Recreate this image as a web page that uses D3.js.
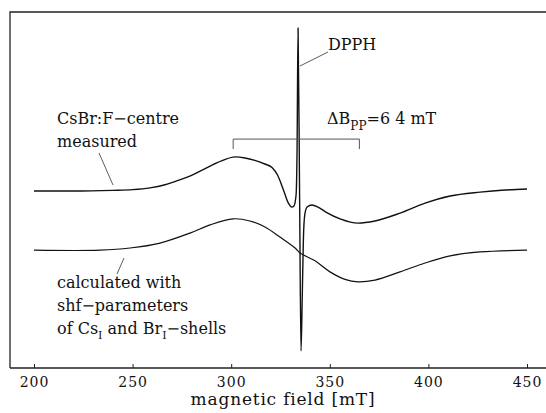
<!DOCTYPE html>
<html>
<head>
<meta charset="utf-8">
<script src="https://cdn.jsdelivr.net/npm/d3@7"></script>
<style>
body { margin:0; background:#fff; }
text { font-family: "DejaVu Serif", "Liberation Serif", serif; fill:#111; }
</style>
</head>
<body>
<div id="chart"></div>
<script>

// magnetic field (mT) and signal (arb. units)
var measuredField = [200, 220, 240, 250, 258.8, 266, 272, 279, 285, 291, 296, 302, 307, 312, 317, 320.7, 323.5, 326.5, 329, 330.8, 331.8, 332.9, 333.4, 333.9, 334.7, 335.4, 336.0, 336.6, 337.3, 338.5, 341, 344, 348, 355.2, 364.3, 372.9, 385.6, 398.3, 411, 426.2, 438.8, 450]
var measuredSignal = [49.7, 49.7, 49.9, 50.1, 50.6, 51.4, 52.5, 53.9, 55.5, 57.2, 58.4, 59.3, 59.0, 58.3, 57.3, 56.3, 54.2, 50.0, 46.3, 45.2, 45.5, 48.6, 61.2, 95.5, 47.2, 4.8, 19.1, 36.0, 43.0, 45.2, 45.8, 45.2, 43.8, 41.9, 40.7, 41.3, 43.5, 46.3, 48.3, 49.4, 50.0, 50.3]

var calcField = [200, 233.5, 248.7, 263.9, 279.1, 289.3, 300.9, 309.5, 317.1, 324.7, 332.4, 334.9, 342.5, 350.1, 357.7, 364.3, 372.9, 385.6, 398.3, 411, 426.2, 450]
var calcSignal = [33.1, 33.1, 33.7, 35.1, 37.9, 40.2, 41.9, 41.3, 39.6, 36.8, 33.7, 32.3, 30.1, 27.0, 24.9, 24.2, 24.7, 27.0, 29.5, 31.5, 32.6, 33.1]

var xTicks = [200, 250, 300, 350, 400, 450]

// peak-to-peak width marker
var bppFrom = 301, bppTo = 365, bppLevel = 64.3, bppTick = 61.5

var W = 546, H = 413
var frameL = 10, frameT = 12, frameB = 368

var svg = d3.select("#chart").append("svg")
	.attr("width", W)
	.attr("height", H)

var x = d3.scaleLinear().domain([200, 450]).range([34, 527])
var y = d3.scaleLinear().domain([0, 100]).range([frameB, frameT])

// frame: left and top, axis at bottom (no right side)
svg.append("path")
	.attr("d", "M" + frameL + "," + frameB + "V" + frameT + "H" + W)
	.attr("fill", "none")
	.attr("stroke", "#222")
	.attr("stroke-width", 1.3)

var xAxis = d3.axisBottom(x).tickValues(xTicks).tickSize(-4).tickPadding(9)
var gx = svg.append("g")
	.attr("transform", "translate(0," + frameB + ")")
	.call(xAxis)
gx.select(".domain").attr("d", "M" + frameL + ",0H" + W).attr("stroke", "#222").attr("stroke-width", 1.3)
gx.selectAll(".tick line").attr("stroke", "#222")
gx.selectAll(".tick text")
	.style("font-family", "DejaVu Serif")
	.style("font-size", "14px")
	.attr("fill", "#111")
	.attr("letter-spacing", 1)

svg.append("text")
	.attr("x", 283)
	.attr("y", 405)
	.attr("text-anchor", "middle")
	.style("font-size", "17px")
	.attr("letter-spacing", 0.8)
	.text("magnetic field [mT]")

var lineM = d3.line()
	.x(function(d) { return x(d[0]) })
	.y(function(d) { return y(d[1]) })
	.curve(d3.curveMonotoneX)

var lineC = d3.line()
	.x(function(d) { return x(d[0]) })
	.y(function(d) { return y(d[1]) })
	.curve(d3.curveCatmullRom.alpha(0.5))

var measured = d3.zip(measuredField, measuredSignal)
var calc = d3.zip(calcField, calcSignal)

svg.append("path").datum(measured)
	.attr("d", lineM)
	.attr("fill", "none")
	.attr("stroke", "#111")
	.attr("stroke-width", 1.4)
	.attr("stroke-linejoin", "round")

svg.append("path").datum(calc)
	.attr("d", lineC)
	.attr("fill", "none")
	.attr("stroke", "#111")
	.attr("stroke-width", 1.2)

// ΔBpp bracket
svg.append("path")
	.attr("d", "M" + x(bppFrom) + "," + y(bppTick) + "V" + y(bppLevel) + "H" + x(bppTo) + "V" + y(bppTick))
	.attr("fill", "none")
	.attr("stroke", "#555")
	.attr("stroke-width", 1)

var dB = svg.append("text").attr("x", 327).attr("y", 124).style("font-size", "16px")
dB.append("tspan").text("ΔB")
dB.append("tspan").attr("dy", 6).style("font-size", "12px").text("PP")
dB.append("tspan").attr("dy", -6).text("=6 4 mT")

// labels and leader lines
function leader(x1, y1, x2, y2) {
	svg.append("line")
		.attr("x1", x1).attr("y1", y1).attr("x2", x2).attr("y2", y2)
		.attr("stroke", "#333").attr("stroke-width", 0.8)
}

svg.append("text").attr("x", 328).attr("y", 50).style("font-size", "16px").text("DPPH")
leader(300, 66, 328, 52)

svg.append("text").attr("x", 57).attr("y", 124).style("font-size", "16px").text("CsBr:F\u2212centre")
svg.append("text").attr("x", 57).attr("y", 147).style("font-size", "16px").text("measured")
leader(99, 153, 113, 185)

svg.append("text").attr("x", 57).attr("y", 288).style("font-size", "16px").text("calculated with")
svg.append("text").attr("x", 57).attr("y", 311).style("font-size", "16px").text("shf\u2212parameters")
var of = svg.append("text").attr("x", 57).attr("y", 334).style("font-size", "16px")
of.append("tspan").text("of Cs")
of.append("tspan").attr("dy", 5).style("font-size", "11px").text("I")
of.append("tspan").attr("dy", -5).text(" and Br")
of.append("tspan").attr("dy", 5).style("font-size", "11px").text("I")
of.append("tspan").attr("dy", -5).text("\u2212shells")
leader(124, 258, 117, 274)

</script>
</body>
</html>
